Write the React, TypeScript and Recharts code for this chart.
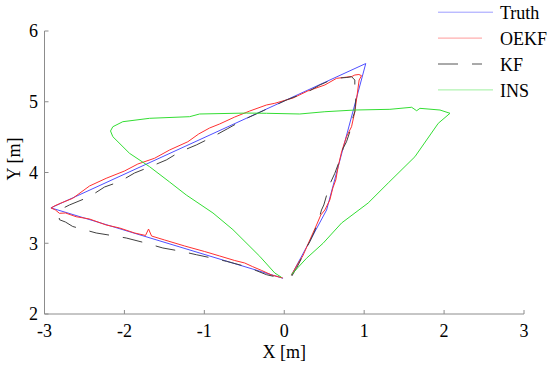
import { ScatterChart, Scatter, XAxis, YAxis, Label } from 'recharts';

// Trajectories in metres
const xTicks = [-3, -2, -1, 0, 1, 2, 3];
const yTicks = [2, 3, 4, 5, 6];
const seriesNames = ['Truth', 'OEKF', 'KF', 'INS'];

const truthPath: [number, number][] = [
  [0.09, 2.55], [0.53, 3.47], [1.02, 5.54], [-2.92, 3.5], [-0.015, 2.505],
];

const oekfPath: [number, number][] = [
  [0.09, 2.55], [0.173, 2.717], [0.232, 2.82], [0.32, 3.046], [0.404, 3.258],
  [0.457, 3.399], [0.508, 3.47], [0.57, 3.611], [0.608, 3.781], [0.645, 3.894],
  [0.674, 4.082], [0.717, 4.29], [0.779, 4.506], [0.842, 4.647], [0.883, 4.859],
  [0.912, 5.095], [0.937, 5.307], [0.967, 5.368], [0.934, 5.385], [0.883, 5.378],
  [0.846, 5.357], [0.654, 5.331], [0.508, 5.237], [0.294, 5.152], [0.11, 5.053],
  [-0.119, 4.978], [-0.223, 4.954], [-0.432, 4.869], [-0.62, 4.784], [-0.808, 4.686],
  [-0.934, 4.629], [-1.071, 4.544], [-1.206, 4.435], [-1.435, 4.318], [-1.623, 4.201],
  [-1.832, 4.12], [-1.999, 4.021], [-2.228, 3.918], [-2.437, 3.809], [-2.647, 3.635],
  [-2.792, 3.569], [-2.876, 3.527], [-2.917, 3.498], [-2.863, 3.47], [-2.813, 3.423],
  [-2.738, 3.428], [-2.604, 3.375], [-2.437, 3.343], [-2.228, 3.258], [-2.061, 3.216],
  [-1.873, 3.145], [-1.736, 3.11], [-1.698, 3.201], [-1.66, 3.102], [-1.497, 3.046],
  [-1.246, 2.961], [-0.996, 2.883], [-0.808, 2.82], [-0.62, 2.756], [-0.495, 2.721],
  [-0.395, 2.669], [-0.282, 2.615], [-0.157, 2.551], [-0.019, 2.509],
];

const kfPath: [number, number][] = [
  [0.094, 2.537], [0.153, 2.646], [0.216, 2.787], [0.269, 2.919], [0.32, 3.022],
  [0.37, 3.145], [0.42, 3.286], [0.466, 3.47], [0.495, 3.541], [0.549, 3.753],
  [0.583, 3.866], [0.633, 3.989], [0.695, 4.177], [0.737, 4.342], [0.779, 4.435],
  [0.821, 4.577], [0.862, 4.789], [0.883, 4.859], [0.896, 5.049], [0.883, 5.19],
  [0.883, 5.307], [0.842, 5.354], [0.783, 5.343], [0.633, 5.331], [0.445, 5.237],
  [0.298, 5.142], [0.028, 5.025], [-0.244, 4.883], [-0.516, 4.742], [-0.708, 4.62],
  [-0.892, 4.506], [-1.1, 4.389], [-1.31, 4.29], [-1.476, 4.177], [-1.685, 4.078],
  [-1.873, 3.993], [-2.061, 3.87], [-2.249, 3.795], [-2.437, 3.658], [-2.688, 3.541],
  [-2.813, 3.47], [-2.822, 3.404], [-2.813, 3.333], [-2.738, 3.3], [-2.647, 3.237],
  [-2.353, 3.145], [-2.145, 3.107], [-1.977, 3.074], [-1.769, 3.014], [-1.519, 2.933],
  [-1.288, 2.886], [-1.1, 2.838], [-0.909, 2.792], [-0.724, 2.745], [-0.474, 2.669],
  [-0.223, 2.556], [-0.019, 2.502],
];

const insPath: [number, number][] = [
  [0.09, 2.558], [0.278, 2.787], [0.486, 3.0], [0.717, 3.286], [1.05, 3.569],
  [1.301, 3.852], [1.635, 4.223], [1.927, 4.695], [2.074, 4.837], [1.949, 4.883],
  [1.698, 4.907], [1.657, 4.873], [1.594, 4.922], [1.322, 4.893], [0.883, 4.883],
  [0.508, 4.859], [0.194, 4.827], [-0.223, 4.837], [-0.474, 4.84], [-1.059, 4.827],
  [-1.184, 4.789], [-1.685, 4.766], [-2.02, 4.718], [-2.145, 4.647], [-2.174, 4.587],
  [-2.145, 4.506], [-1.936, 4.271], [-1.685, 4.082], [-1.435, 3.866], [-1.226, 3.682],
  [-0.892, 3.428], [-0.642, 3.192], [-0.307, 2.816], [-0.119, 2.58], [-0.035, 2.519],
];

const toPoints = (path: [number, number][]) => path.map(([x, y]) => ({ x, y }));

const FONT = '"Liberation Serif", "Times New Roman", serif';
const AXIS = '#8c8c8c';

const SERIES = [
  { name: seriesNames[0], data: toPoints(truthPath), color: '#4f4fff', legend: '#9d9dff', dash: undefined, legendLen: 55 },
  { name: seriesNames[1], data: toPoints(oekfPath), color: '#ff3030', legend: '#ff9a9a', dash: undefined, legendLen: 44 },
  { name: seriesNames[2], data: toPoints(kfPath), color: '#404040', legend: '#555555', dash: '20 14', legendLen: 44 },
  { name: seriesNames[3], data: toPoints(insPath), color: '#33dd33', legend: '#9ff09f', dash: undefined, legendLen: 55 },
];

const noDot = () => <g />;

export default function App() {
  return (
    <div style={{ position: 'absolute', left: 0, top: 0, width: 550, height: 366, background: '#fff' }}>
      <ScatterChart width={550} height={366} margin={{ top: 31, right: 26, bottom: 0, left: 0 }}>
        <XAxis
          type="number"
          dataKey="x"
          domain={[-3, 3]}
          ticks={xTicks}
          allowDataOverflow
          height={52}
          stroke={AXIS}
          tickSize={-4}
          tickMargin={14}
          tickLine={{ stroke: AXIS }}
          tick={{ fill: '#000', fontSize: 18, fontFamily: FONT }}
        >
          <Label value="X [m]" position="insideBottom" offset={8} style={{ fill: '#000', fontSize: 18, fontFamily: FONT }} />
        </XAxis>
        <YAxis
          type="number"
          dataKey="y"
          domain={[2, 6]}
          ticks={yTicks}
          allowDataOverflow
          width={44.5}
          stroke={AXIS}
          tickSize={-4}
          tickMargin={10.5}
          tickLine={{ stroke: AXIS }}
          tick={{ fill: '#000', fontSize: 18, fontFamily: FONT }}
        >
          <Label
            content={() => (
              <text x={20} y={159} transform="rotate(-90 20 159)" textAnchor="middle" fill="#000" fontSize={18} fontFamily={FONT}>
                Y [m]
              </text>
            )}
          />
        </YAxis>
        {SERIES.map((s) => (
          <Scatter
            key={s.name}
            name={s.name}
            data={s.data}
            fill={s.color}
            line={{ stroke: s.color, strokeWidth: 1, strokeDasharray: s.dash }}
            lineType="joint"
            shape={noDot}
            isAnimationActive={false}
          />
        ))}
      </ScatterChart>

      {/* Legend, top right, drawn like the MATLAB one */}
      <svg width={550} height={366} style={{ position: 'absolute', left: 0, top: 0, pointerEvents: 'none' }}>
        {SERIES.map((s, i) => {
          const base = 19 + i * 25.9;
          return (
            <g key={s.name}>
              <line x1={438} x2={438 + s.legendLen} y1={base - 6.8} y2={base - 6.8} stroke={s.legend} strokeWidth={1} strokeDasharray={s.dash} />
              <text x={500} y={base} fill="#000" fontSize={18} fontFamily={FONT}>{s.name}</text>
            </g>
          );
        })}
      </svg>
    </div>
  );
}
